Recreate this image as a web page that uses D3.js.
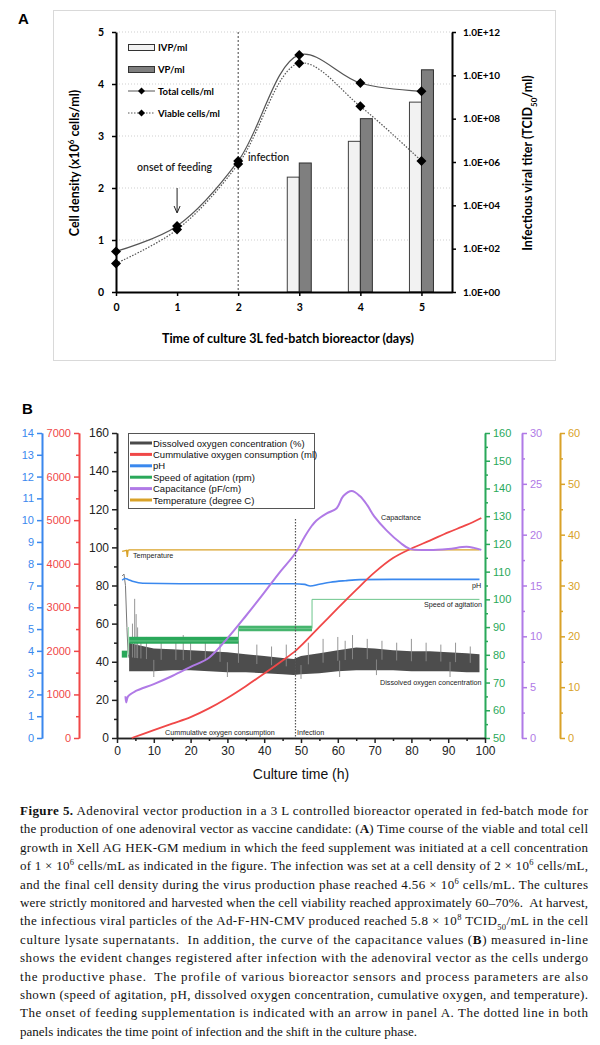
<!DOCTYPE html>
<html>
<head>
<meta charset="utf-8">
<script src="https://cdn.jsdelivr.net/npm/d3@7"></script>
<style>
  body { margin: 0; background: #fff; }
  svg { display: block; }
</style>
</head>
<body>
<svg id="fig" width="600" height="1045"></svg>
<script>
// ---------- panel A data
const days = [0, 1, 2, 3, 4, 5];
const totalCells = [0.78, 1.27, 2.52, 4.56, 4.02, 3.86];
const viableCells = [0.55, 1.2, 2.46, 4.4, 3.57, 2.52];
const barDays = [3, 4, 5];
const ivp = [2.0e5, 9.0e6, 5.8e8];
const vp = [9.0e5, 1.0e8, 1.8e10];
const leftTicksA = [0, 1, 2, 3, 4, 5];
const rightTicksA = [1e0, 1e2, 1e4, 1e6, 1e8, 1e10, 1e12];

// ---------- panel B data (x = culture time in h)
const doT    = [3.3, 5, 10, 15, 20, 25, 30, 35, 40, 45, 48, 50, 55, 60, 65, 70, 75, 80, 85, 90, 95, 98.5];
const doLow  = [35, 35, 35, 35.5, 35.5, 35, 34.5, 34.5, 34, 33.5, 33, 33.5, 34, 35, 35.5, 35.5, 35.5, 35, 35, 35, 34.5, 34.5];
const doHigh = [50, 49, 47, 46.5, 46, 45.5, 45, 44, 43, 42, 41.5, 43, 44.5, 46, 47.5, 47, 46, 45.5, 45.5, 45, 44.5, 44];
const doEarlyT = [1.4, 1.9, 2.3, 2.7, 3.0, 3.3];
const doEarlyV = [85, 86, 80, 58, 45, 42];
const doSpikeT = [4.2, 4.8, 5.2, 5.6, 6.5, 8, 12, 16, 18, 20, 24, 28, 33, 38, 42, 46, 52, 56, 60, 62, 64, 68, 72, 76, 80, 84, 88, 92, 96, 10, 30, 50, 60.5, 70.5, 90.5];
const doSpikeV = [60, 73, 65, 58, 52, 53, 51, 50, 54, 52, 50, 53, 52, 49, 48, 49, 50, 52, 53, 51, 54, 52, 51, 50, 52, 50, 49, 50, 48, 32, 32, 31, 32, 33, 32];

const o2T = [4, 10, 15, 20, 25, 30, 35, 40, 45, 48.5, 55, 60, 65, 70, 75, 80, 85, 90, 95, 99];
const o2V = [0, 180, 330, 480, 680, 920, 1190, 1480, 1780, 2000, 2550, 2980, 3400, 3800, 4130, 4350, 4530, 4720, 4890, 5050];

const phT = [1.4, 2.2, 3.0, 4.5, 7, 20, 40, 48, 51, 52.5, 55, 58, 62, 66, 75, 98.5];
const phV = [7.25, 7.32, 7.28, 7.18, 7.1, 7.08, 7.08, 7.08, 7.05, 6.98, 7.06, 7.15, 7.22, 7.27, 7.28, 7.28];

const spdStepT = [3.3, 33, 33, 53, 53, 98.5];
const spdStepV = [85, 85, 89.5, 89.5, 100, 100];
const spdBandT = [[1.3, 2.8], [3.3, 33], [33, 53]];
const spdBandLo = [79, 84, 88.5];
const spdBandHi = [81.5, 86.5, 90.5];

const capT = [2.3, 2.5, 3, 5, 10, 15, 20, 25, 30, 35, 40, 44, 48.5, 51, 53, 54.2, 57, 59.7, 61.5, 63.8, 66, 68, 69.9, 73.3, 77, 79.6, 85, 90, 95, 97, 99];
const capV = [4.1, 3.5, 4.1, 4.6, 5.3, 6.1, 7.0, 7.9, 9.8, 12.0, 14.3, 16.2, 18.2, 19.8, 20.9, 21.4, 22.1, 22.6, 23.8, 24.3, 23.8, 22.9, 21.8, 20.4, 19.2, 18.6, 18.5, 18.6, 18.8, 18.7, 18.5];

const tempT = [1.4, 2.6, 2.8, 3.0, 3.3, 98.5];
const tempV = [36.7, 36.9, 35.6, 36.9, 37, 37];

const legendB = ["Dissolved oxygen concentration (%)", "Cummulative oxygen consumption (ml)", "pH",
                 "Speed of agitation (rpm)", "Capacitance (pF/cm)", "Temperature (degree C)"];
const colB = { black: "#4a4a4a", red: "#f04848", blue: "#3a88ee", green: "#2aa85a", purple: "#b07ae6", gold: "#d9a228" };
const legendCols = [colB.black, colB.red, colB.blue, colB.green, colB.purple, colB.gold];

const svg = d3.select("#fig");
const fA = "Lato, 'Open Sans', sans-serif";
const fB = "'Liberation Sans', Arial, sans-serif";
const intFmt = d3.format("d");

// ================= PANEL A =================
const xA = d3.scaleLinear().domain([0, 5.5]).range([116, 452]);
const yA = d3.scaleLinear().domain([0, 5]).range([292, 32]);
const yAR = d3.scaleLog().domain([1, 1e12]).range([292, 32]);

const A = svg.append("g");
A.append("rect").attr("x", 53.5).attr("y", 10.5).attr("width", 502).attr("height", 350)
  .attr("fill", "none").attr("stroke", "#d9d9d9");
A.append("text").attr("x", 18).attr("y", 24).attr("font-family", fB).attr("font-weight", "bold")
  .attr("font-size", 15).text("A");

// grid
A.selectAll(".grid").data(leftTicksA.slice(1)).enter().append("line")
  .attr("x1", xA(0)).attr("x2", xA(5.5)).attr("y1", d => yA(d)).attr("y2", d => yA(d))
  .attr("stroke", "#cfcfcf").attr("stroke-dasharray", "1,2");

// bars
const bw = 12;
A.selectAll(".ivp").data(barDays).enter().append("rect")
  .attr("x", d => xA(d) - bw).attr("width", bw)
  .attr("y", (d, i) => yAR(ivp[i])).attr("height", (d, i) => yAR(1) - yAR(ivp[i]))
  .attr("fill", "#f2f2f2").attr("stroke", "#404040");
A.selectAll(".vp").data(barDays).enter().append("rect")
  .attr("x", d => xA(d)).attr("width", bw)
  .attr("y", (d, i) => yAR(vp[i])).attr("height", (d, i) => yAR(1) - yAR(vp[i]))
  .attr("fill", "#7f7f7f").attr("stroke", "#303030");

// infection line
A.append("line").attr("x1", xA(2)).attr("x2", xA(2)).attr("y1", yA(5)).attr("y2", yA(0))
  .attr("stroke", "#444").attr("stroke-dasharray", "2,2");

// curves
const lineA = d3.line().x((d, i) => xA(days[i])).y(d => yA(d)).curve(d3.curveCatmullRom.alpha(0.5));
A.append("path").attr("d", lineA(totalCells)).attr("fill", "none").attr("stroke", "#555").attr("stroke-width", 1.2);
A.append("path").attr("d", lineA(viableCells)).attr("fill", "none").attr("stroke", "#555")
  .attr("stroke-width", 1.2).attr("stroke-dasharray", "1.5,1.5");

const dia = r => `M0,${-r}L${r},0L0,${r}L${-r},0Z`;
[totalCells, viableCells].forEach(s => {
  A.selectAll(null).data(s).enter().append("path")
    .attr("d", dia(5)).attr("fill", "#000")
    .attr("transform", (d, i) => `translate(${xA(days[i])},${yA(d)})`);
});

// axes
function styleAxis(g, w, font, size, weight, color) {
  g.select(".domain").attr("stroke", color).attr("stroke-width", w);
  g.selectAll(".tick line").attr("stroke", color).attr("stroke-width", Math.min(w, 1.5));
  g.selectAll(".tick text").attr("font-family", font).attr("font-size", size)
    .attr("font-weight", weight).attr("fill", color);
}
const gL = A.append("g").attr("transform", `translate(${xA(0)},0)`)
  .call(d3.axisLeft(yA).tickValues(leftTicksA).tickFormat(intFmt).tickSize(4).tickSizeOuter(0).tickPadding(8));
styleAxis(gL, 2, fA, 10.5, "bold", "#000");
const gX = A.append("g").attr("transform", `translate(0,${yA(0)})`)
  .call(d3.axisBottom(xA).tickValues(days).tickFormat(intFmt).tickSize(4).tickSizeOuter(0).tickPadding(8));
styleAxis(gX, 2, fA, 10.5, "bold", "#000");
const gR = A.append("g").attr("transform", `translate(${xA(5.5)},0)`)
  .call(d3.axisRight(yAR).tickValues(rightTicksA).tickSize(4).tickSizeOuter(0).tickPadding(7)
    .tickFormat(d => "1.0E+" + String(Math.round(Math.log10(d))).padStart(2, "0")));
styleAxis(gR, 2, fA, 10, "bold", "#000");

// axis titles
A.append("text").attr("transform", "translate(79,163) rotate(-90)").attr("text-anchor", "middle")
  .attr("font-family", fA).attr("font-weight", "bold").attr("font-size", 12.5)
  .call(t => {
    t.append("tspan").text("Cell density (x10");
    t.append("tspan").attr("baseline-shift", "super").attr("font-size", 8).text("6");
    t.append("tspan").text(" cells/ml)");
  });
A.append("text").attr("transform", "translate(532,163) rotate(-90)").attr("text-anchor", "middle")
  .attr("font-family", fA).attr("font-weight", "bold").attr("font-size", 12.5)
  .call(t => {
    t.append("tspan").text("Infectious viral titer (TCID");
    t.append("tspan").attr("baseline-shift", "sub").attr("font-size", 8).text("50");
    t.append("tspan").text("/ml)");
  });
A.append("text").attr("x", 288).attr("y", 343).attr("text-anchor", "middle")
  .attr("font-family", fA).attr("font-weight", "bold").attr("font-size", 12.5)
  .text("Time of culture 3L fed-batch bioreactor (days)");

// annotations
A.append("text").attr("x", 137).attr("y", 171).attr("font-family", fA).attr("font-weight", 600)
  .attr("font-size", 10.5).attr("fill", "#222").text("onset of feeding");
A.append("line").attr("x1", xA(1)).attr("x2", xA(1)).attr("y1", 188).attr("y2", 212).attr("stroke", "#222");
A.append("path").attr("d", `M${xA(1) - 3},206L${xA(1)},213L${xA(1) + 3},206`).attr("fill", "none").attr("stroke", "#222");
A.append("text").attr("x", 248).attr("y", 161).attr("font-family", fA).attr("font-weight", 600)
  .attr("font-size", 10.5).attr("fill", "#222").text("infection");

// legend A
const legA = A.append("g").attr("font-family", fA).attr("font-weight", "bold").attr("font-size", 9.5);
legA.append("rect").attr("x", 128.5).attr("y", 44.5).attr("width", 26).attr("height", 6).attr("fill", "#f2f2f2").attr("stroke", "#333");
legA.append("text").attr("x", 158).attr("y", 51).text("IVP/ml");
legA.append("rect").attr("x", 128.5).attr("y", 66.5).attr("width", 26).attr("height", 6).attr("fill", "#7f7f7f").attr("stroke", "#333");
legA.append("text").attr("x", 158).attr("y", 73).text("VP/ml");
legA.append("line").attr("x1", 128).attr("x2", 155).attr("y1", 91).attr("y2", 91).attr("stroke", "#555");
legA.append("path").attr("d", dia(3.5)).attr("transform", "translate(141.5,91)");
legA.append("text").attr("x", 158).attr("y", 94.5).text("Total cells/ml");
legA.append("line").attr("x1", 128).attr("x2", 155).attr("y1", 113).attr("y2", 113).attr("stroke", "#555").attr("stroke-dasharray", "1.5,1.5");
legA.append("path").attr("d", dia(3.5)).attr("transform", "translate(141.5,113)");
legA.append("text").attr("x", 158).attr("y", 116.5).text("Viable cells/ml");

// ================= PANEL B =================
const B = svg.append("g");
const yTop = 433, yBot = 738;
const xB = d3.scaleLinear().domain([0, 100]).range([117, 485]);
const yMain = d3.scaleLinear().domain([0, 160]).range([yBot, yTop]);
const yPH = d3.scaleLinear().domain([0, 14]).range([yBot, yTop]);
const yRed = d3.scaleLinear().domain([0, 7000]).range([yBot, yTop]);
const yGreen = d3.scaleLinear().domain([50, 160]).range([yBot, yTop]);
const yPurple = d3.scaleLinear().domain([0, 30]).range([yBot, yTop]);
const yGold = d3.scaleLinear().domain([0, 60]).range([yBot, yTop]);

B.append("text").attr("x", 22).attr("y", 414).attr("font-family", fB).attr("font-weight", "bold")
  .attr("font-size", 15).text("B");

// axes with major + minor ticks
function axisB(scale, x, side, majors, minors, color, size, width) {
  const mk = side === "left" ? d3.axisLeft : d3.axisRight;
  const g = B.append("g").attr("transform", `translate(${x},0)`);
  g.append("g").call(mk(scale).tickValues(minors).tickSize(3).tickSizeOuter(0).tickFormat(""))
    .call(s => styleAxis(s, width, fB, size, "normal", color));
  g.append("g").call(mk(scale).tickValues(majors).tickFormat(intFmt).tickSize(5).tickSizeOuter(0).tickPadding(3))
    .call(s => styleAxis(s, width, fB, size, "normal", color));
}
const rng = (a, b, s) => d3.range(a, b + s / 2, s);
axisB(yPH, 42, "left", rng(0, 14, 1), [], colB.blue, 11, 1.6);
axisB(yRed, 79, "left", rng(0, 7000, 1000), rng(500, 6500, 1000), colB.red, 11, 1.6);
axisB(yMain, 117, "left", rng(0, 160, 20), rng(10, 150, 20), "#222", 12, 1.6);
axisB(yGreen, 485, "right", rng(50, 160, 10), rng(55, 155, 10), colB.green, 11, 1.6);
axisB(yPurple, 522, "right", rng(0, 30, 5), rng(2.5, 27.5, 5), colB.purple, 11, 1.6);
axisB(yGold, 560, "right", rng(0, 60, 10), rng(5, 55, 10), colB.gold, 11, 1.6);

const gXB = B.append("g").attr("transform", `translate(0,${yBot})`);
gXB.append("g").call(d3.axisBottom(xB).tickValues(rng(5, 95, 10)).tickSize(3).tickSizeOuter(0).tickFormat(""))
  .call(s => styleAxis(s, 1.6, fB, 12, "normal", "#222"));
gXB.append("g").call(d3.axisBottom(xB).tickValues(rng(0, 100, 10)).tickFormat(intFmt).tickSize(5).tickSizeOuter(0).tickPadding(3))
  .call(s => styleAxis(s, 1.6, fB, 12, "normal", "#222"));
B.append("text").attr("x", 301).attr("y", 779).attr("text-anchor", "middle").attr("font-family", fB)
  .attr("font-size", 14).attr("fill", "#111").text("Culture time (h)");

// dissolved oxygen
B.append("path")
  .attr("d", d3.line().x((d, i) => xB(doEarlyT[i])).y(d => yMain(d))(doEarlyV))
  .attr("fill", "none").attr("stroke", "#777").attr("stroke-width", 1);
B.append("path")
  .attr("d", d3.area().x((d, i) => xB(doT[i])).y0((d, i) => yMain(doLow[i])).y1((d, i) => yMain(doHigh[i]))(doT))
  .attr("fill", "#4d4d4d");
const doMid = t => (d3.scaleLinear().domain(doT).range(doLow)(t) + d3.scaleLinear().domain(doT).range(doHigh)(t)) / 2;
B.selectAll(".spk").data(doSpikeT).enter().append("line")
  .attr("x1", d => xB(d)).attr("x2", d => xB(d))
  .attr("y1", d => yMain(doMid(d))).attr("y2", (d, i) => yMain(doSpikeV[i]))
  .attr("stroke", "#8a8a8a").attr("stroke-width", 0.9);

// speed of agitation
spdBandT.forEach((r, i) => {
  B.append("rect").attr("x", xB(r[0])).attr("width", xB(r[1]) - xB(r[0]))
    .attr("y", yGreen(spdBandHi[i])).attr("height", yGreen(spdBandLo[i]) - yGreen(spdBandHi[i]))
    .attr("fill", i === 2 ? "#46b56e" : colB.green);
});
B.append("path")
  .attr("d", d3.line().x((d, i) => xB(spdStepT[i])).y(d => yGreen(d))(spdStepV))
  .attr("fill", "none").attr("stroke", "#6cc58c").attr("stroke-width", 1);
B.append("line").attr("x1", xB(3.1)).attr("x2", xB(3.1)).attr("y1", yGreen(80)).attr("y2", yGreen(90))
  .attr("stroke", "#9bd8ad").attr("stroke-width", 1);

// pH
B.append("path")
  .attr("d", d3.line().x((d, i) => xB(phT[i])).y(d => yPH(d)).curve(d3.curveMonotoneX)(phV))
  .attr("fill", "none").attr("stroke", colB.blue).attr("stroke-width", 1.6);

// temperature
B.append("path")
  .attr("d", d3.line().x((d, i) => xB(tempT[i])).y(d => yGold(d))(tempV))
  .attr("fill", "none").attr("stroke", colB.gold).attr("stroke-width", 1.4);

// cumulative oxygen
B.append("path")
  .attr("d", d3.line().x((d, i) => xB(o2T[i])).y(d => yRed(d)).curve(d3.curveMonotoneX)(o2V))
  .attr("fill", "none").attr("stroke", colB.red).attr("stroke-width", 1.8);

// capacitance
B.append("path")
  .attr("d", d3.line().x((d, i) => xB(capT[i])).y(d => yPurple(d)).curve(d3.curveCatmullRom.alpha(0.5))(capV))
  .attr("fill", "none").attr("stroke", colB.purple).attr("stroke-width", 2);

// infection line
B.append("line").attr("x1", xB(48.5)).attr("x2", xB(48.5)).attr("y1", 519).attr("y2", yBot)
  .attr("stroke", "#555").attr("stroke-dasharray", "1.5,1.5").attr("stroke-width", 1.2);

// in-plot labels
const lab = (x, y, t) => B.append("text").attr("x", x).attr("y", y).attr("font-family", fB)
  .attr("font-size", 7.2).attr("fill", "#222").text(t);
lab(133, 558, "Temperature");
lab(381, 520, "Capacitance");
lab(472, 588, "pH");
lab(424, 607, "Speed of agitation");
lab(380, 685, "Dissolved oxygen concentration");
lab(165, 735, "Cummulative oxygen consumption");
lab(297, 735, "Infection");

// legend B
const legB = B.append("g");
legB.append("rect").attr("x", 128.5).attr("y", 433.5).attr("width", 186).attr("height", 75)
  .attr("fill", "#fff").attr("stroke", "#555").attr("stroke-width", 1);
legB.selectAll("line").data(legendB).enter().append("line")
  .attr("x1", 130).attr("x2", 152).attr("y1", (d, i) => 443 + i * 11.4).attr("y2", (d, i) => 443 + i * 11.4)
  .attr("stroke", (d, i) => legendCols[i]).attr("stroke-width", 3);
legB.selectAll("text").data(legendB).enter().append("text")
  .attr("x", 153).attr("y", (d, i) => 446.5 + i * 11.4).attr("font-family", fB).attr("font-size", 9.5)
  .attr("fill", "#111").text(d => d);

// ================= CAPTION =================
const captionLines = [
  [["Figure 5.", "b"], [" Adenoviral vector production in a 3 L controlled bioreactor operated in fed-batch mode for"]],
  [["the production of one adenoviral vector as vaccine candidate: ("], ["A", "b"], [") Time course of the viable and total cell"]],
  [["growth in Xell AG HEK-GM medium in which the feed supplement was initiated at a cell concentration"]],
  [["of 1 × 10"], ["6", "sup"], [" cells/mL as indicated in the figure. The infection was set at a cell density of 2 × 10"], ["6", "sup"], [" cells/mL,"]],
  [["and the final cell density during the virus production phase reached 4.56 × 10"], ["6", "sup"], [" cells/mL. The cultures"]],
  [["were strictly monitored and harvested when the cell viability reached approximately 60–70%.  At harvest,"]],
  [["the infectious viral particles of the Ad-F-HN-CMV produced reached 5.8 × 10"], ["8", "sup"], [" TCID"], ["50", "sub"], ["/mL in the cell"]],
  [["culture lysate supernatants.  In addition, the curve of the capacitance values ("], ["B", "b"], [") measured in-line"]],
  [["shows the evident changes registered after infection with the adenoviral vector as the cells undergo"]],
  [["the productive phase.  The profile of various bioreactor sensors and process parameters are also"]],
  [["shown (speed of agitation, pH, dissolved oxygen concentration, cumulative oxygen, and temperature)."]],
  [["The onset of feeding supplementation is indicated with an arrow in panel A. The dotted line in both"]],
  [["panels indicates the time point of infection and the shift in the culture phase."]]
];
const cap = svg.append("g").attr("font-family", "'Liberation Serif', 'DejaVu Serif', serif")
  .attr("font-size", 13).attr("fill", "#111");
captionLines.forEach((segs, li) => {
  const t = cap.append("text").attr("x", 20).attr("y", 815 + li * 18.4).style("white-space", "pre");
  if (li < captionLines.length - 1) t.attr("textLength", 568).attr("lengthAdjust", "spacing");
  segs.forEach(([s, k]) => {
    const ts = t.append("tspan").text(s);
    if (k === "b") ts.attr("font-weight", "bold");
    if (k === "sup") ts.attr("baseline-shift", "super").attr("font-size", 8.5);
    if (k === "sub") ts.attr("baseline-shift", "sub").attr("font-size", 8.5);
  });
});
</script>
</body>
</html>
